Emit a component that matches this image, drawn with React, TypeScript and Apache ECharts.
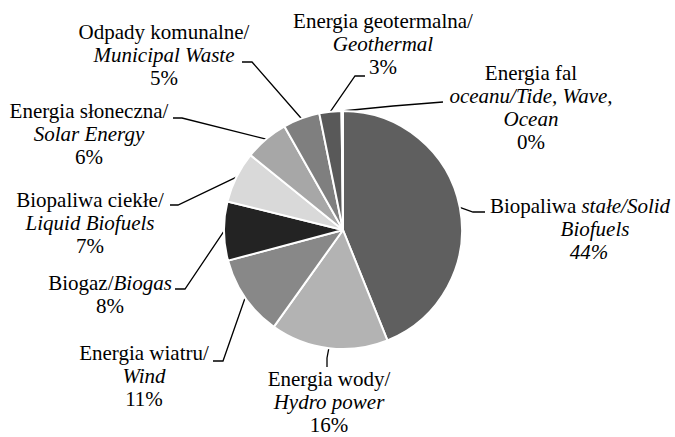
import React, { useEffect, useRef } from "react";
import * as echarts from "echarts";

// ---- data ----
const categoriesPl = [
  "Biopaliwa stałe",
  "Energia wody",
  "Energia wiatru",
  "Biogaz",
  "Biopaliwa ciekłe",
  "Energia słoneczna",
  "Odpady komunalne",
  "Energia geotermalna",
  "Energia fal oceanu",
];
const categoriesEn = [
  "Solid Biofuels",
  "Hydro power",
  "Wind",
  "Biogas",
  "Liquid Biofuels",
  "Solar Energy",
  "Municipal Waste",
  "Geothermal",
  "Tide, Wave, Ocean",
];
const values = [44, 16, 11, 8, 7, 6, 5, 3, 0.2];
const colors = [
  "#5f5f5f",
  "#b3b3b3",
  "#888888",
  "#232323",
  "#d9d9d9",
  "#a7a7a7",
  "#7f7f7f",
  "#595959",
  "#eeeeee",
];
// label text templates ({v} = percent)
const labelTemplates = [
  "{r|Biopaliwa }{it|stałe/Solid}\n{ib|Biofuels}\n{ip|{v}}",
  "{r|Energia wody/}\n{it|Hydro power}\n{r|{v}}",
  "{r|Energia wiatru/}\n{it|Wind}\n{r|{v}}",
  "{r|Biogaz/}{it|Biogas}\n{r|{v}}",
  "{r|Biopaliwa ciekłe/}\n{it|Liquid Biofuels}\n{r|{v}}",
  "{r|Energia słoneczna/}\n{it|Solar Energy}\n{r|{v}}",
  "{r|Odpady komunalne/}\n{it|Municipal Waste}\n{r|{v}}",
  "{r|Energia geotermalna/}\n{it|Geothermal}\n{r|{v}}",
  "{r|Energia fal}\n{it|oceanu/Tide, Wave,}\n{it|Ocean}\n{r|{v}}",
];

// ---- layout (label block top-centre, leader bend & end) ----
const labelPos: [number, number][] = [
  [580, 194],
  [329, 367],
  [144, 341],
  [110, 271],
  [90, 188],
  [89, 99],
  [164, 20],
  [383, 9],
  [531, 61],
];
const leaderBend: [number, number][] = [
  [473, 212],
  [327, 358],
  [223, 361],
  [185, 289],
  [178, 205],
  [182, 118],
  [252, 62],
  [355, 76],
  [393, 106],
];
const leaderEnd: [number, number][] = [
  [485, 212],
  [327, 367],
  [213, 361],
  [175, 289],
  [170, 205],
  [173, 118],
  [242, 62],
  [365, 76],
  [443, 102],
];

const FONT = "Liberation Serif";
const CX = 343;
const CY = 230;
const R = 119;

export default function App() {
  const ref = useRef<HTMLDivElement>(null);
  useEffect(() => {
    document.body.style.margin = "0";
    if (!ref.current) return;
    const chart = echarts.init(ref.current, undefined, { renderer: "svg" });
    const total = values.reduce((a, b) => a + b, 0);
    const base = {
      fontFamily: FONT,
      fontSize: 21,
      fontWeight: "normal",
      fontStyle: "normal",
      lineHeight: 23,
      color: "#000",
    };
    chart.setOption({
      animation: false,
      backgroundColor: "#ffffff",
      textStyle: { fontFamily: FONT },
      series: [
        {
          type: "pie",
          center: [CX, CY],
          radius: [0, R],
          startAngle: 90,
          clockwise: true,
          avoidLabelOverlap: false,
          itemStyle: { borderColor: "#ffffff", borderWidth: 2 },
          label: {
            show: true,
            position: "outside",
            ...base,
            formatter: (p: any) =>
              labelTemplates[p.dataIndex].replace("{v}", Math.round(p.value) + "%"),
            rich: {
              r: { ...base },
              it: { ...base, fontStyle: "italic" },
              ib: { ...base, fontStyle: "italic", padding: [0, 0, 0, 30] },
              ip: { ...base, fontStyle: "italic", padding: [0, 0, 0, 18] },
            },
          },
          labelLine: {
            show: true,
            length: 10,
            length2: 10,
            lineStyle: { color: "#000", width: 1.3 },
          },
          labelLayout: (params: any) => {
            const i = params.dataIndex;
            let start: number[];
            if (params.labelLinePoints && params.labelLinePoints[0]) {
              start = params.labelLinePoints[0];
            } else {
              let cum = 0;
              for (let k = 0; k < i; k++) cum += values[k];
              const mid = ((cum + values[i] / 2) / total) * Math.PI * 2;
              start = [CX + R * Math.sin(mid), CY - R * Math.cos(mid)];
            }
            return {
              x: labelPos[i][0],
              y: labelPos[i][1],
              align: "center",
              verticalAlign: "top",
              labelLinePoints: [start, leaderBend[i], leaderEnd[i]],
            };
          },
          data: values.map((v, i) => ({
            name: categoriesPl[i] + "/" + categoriesEn[i],
            value: v,
            itemStyle: { color: colors[i] },
          })),
        },
      ],
    });
    return () => chart.dispose();
  }, []);
  return <div ref={ref} style={{ width: 675, height: 437 }} />;
}
